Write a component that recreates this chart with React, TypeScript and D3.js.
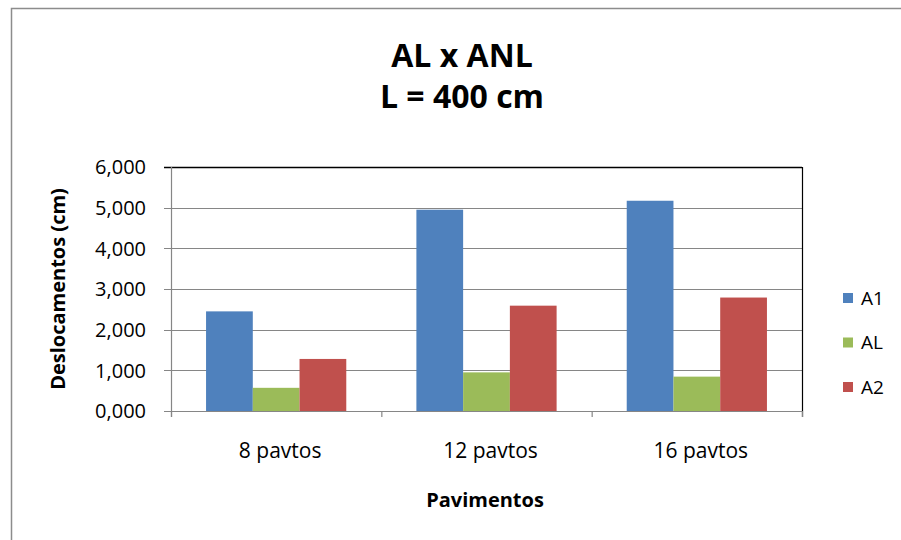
import React from 'react'
import * as d3 from 'd3'

// dados
const categories = ['8 pavtos', '12 pavtos', '16 pavtos']
const seriesNames = ['A1', 'AL', 'A2']
const A1 = [2.45, 4.95, 5.17]
const AL = [0.57, 0.95, 0.845]
const A2 = [1.28, 2.59, 2.79]
const yTicks = [0, 1, 2, 3, 4, 5, 6]
const colors = ['#4F81BD', '#9BBB59', '#C0504D']

const W = 901
const H = 540
const plot = { left: 171, top: 167, right: 802, bottom: 411 }
const font = '"Open Sans", sans-serif'

// separador decimal com vírgula
const fmt = (v: number) => d3.format('.3f')(v).replace('.', ',')

const App: React.FC = () => {
  const series = [A1, AL, A2]

  const x0 = d3.scaleBand<string>()
    .domain(categories)
    .range([plot.left, plot.right])
    .padding(0)

  // gap width 150% como no Excel
  const x1 = d3.scaleBand<string>()
    .domain(seriesNames)
    .range([0, x0.bandwidth()])
    .paddingOuter(0.75)
    .paddingInner(0)

  const y = d3.scaleLinear()
    .domain([0, 6])
    .range([plot.bottom, plot.top])

  const xTicks = [...categories.map(c => x0(c) as number), plot.right]

  return (
    <div style={{ position: 'absolute', left: 0, top: 0 }}>
      <svg width={W} height={H} style={{ display: 'block', background: '#fff' }}>
        {/* moldura do gráfico */}
        <rect x={11.5} y={8.5} width={W + 100} height={H + 100} fill="#fff" stroke="#8c8c8c" strokeWidth={1.5} />

        <text x={462} y={67} textAnchor="middle" fontFamily={font} fontWeight={700} fontSize={32} fill="#000">AL x ANL</text>
        <text x={462} y={108} textAnchor="middle" fontFamily={font} fontWeight={700} fontSize={32} fill="#000">L = 400 cm</text>

        {/* grade */}
        {yTicks.map(t => (
          <g key={t}>
            <line x1={plot.left - 7} x2={plot.right} y1={Math.round(y(t)) + 0.5} y2={Math.round(y(t)) + 0.5}
              stroke={t === 6 ? '#000' : '#868686'} strokeWidth={t === 6 ? 1.5 : 1.2} />
            <text x={146} y={y(t)} dy="0.36em" textAnchor="end" fontFamily={font} fontSize={20} fill="#000">
              {fmt(t)}
            </text>
          </g>
        ))}

        {/* barras */}
        {categories.map((c, i) => (
          <g key={c} transform={`translate(${x0(c)},0)`}>
            {series.map((s, j) => (
              <rect key={j}
                x={x1(seriesNames[j])}
                y={y(s[i])}
                width={x1.bandwidth()}
                height={y(0) - y(s[i])}
                fill={colors[j]} />
            ))}
          </g>
        ))}

        {/* eixos */}
        <line x1={plot.left + 0.5} x2={plot.left + 0.5} y1={plot.top} y2={plot.bottom + 6} stroke="#868686" strokeWidth={1.2} />
        <line x1={plot.right + 0.5} x2={plot.right + 0.5} y1={plot.top} y2={plot.bottom + 6} stroke="#000" strokeWidth={1.2} />
        <line x1={plot.left} x2={plot.right} y1={plot.bottom + 0.5} y2={plot.bottom + 0.5} stroke="#868686" strokeWidth={1.2} />
        {xTicks.map((t, i) => (
          <line key={i} x1={t + 0.5} x2={t + 0.5} y1={plot.bottom} y2={plot.bottom + 6} stroke="#868686" strokeWidth={1.2} />
        ))}

        {categories.map(c => (
          <text key={c} x={(x0(c) as number) + x0.bandwidth() / 2 + 4} y={458} textAnchor="middle"
            fontFamily={font} fontSize={21} fill="#000">{c}</text>
        ))}

        <text x={485} y={507} textAnchor="middle" fontFamily={font} fontWeight={700} fontSize={20} fill="#000">Pavimentos</text>
        <text transform={`translate(58,${(plot.top + plot.bottom) / 2}) rotate(-90)`} dy="0.36em" textAnchor="middle"
          fontFamily={font} fontWeight={700} fontSize={20} fill="#000">Deslocamentos (cm)</text>

        {/* legenda */}
        {seriesNames.map((n, j) => (
          <g key={n} transform={`translate(843,${298 + j * 44.5})`}>
            <rect x={0} y={-5} width={10} height={10} fill={colors[j]} />
            <text x={18} y={0} dy="0.36em" fontFamily={font} fontSize={19} fill="#000">{n}</text>
          </g>
        ))}
      </svg>
    </div>
  )
}

export default App
